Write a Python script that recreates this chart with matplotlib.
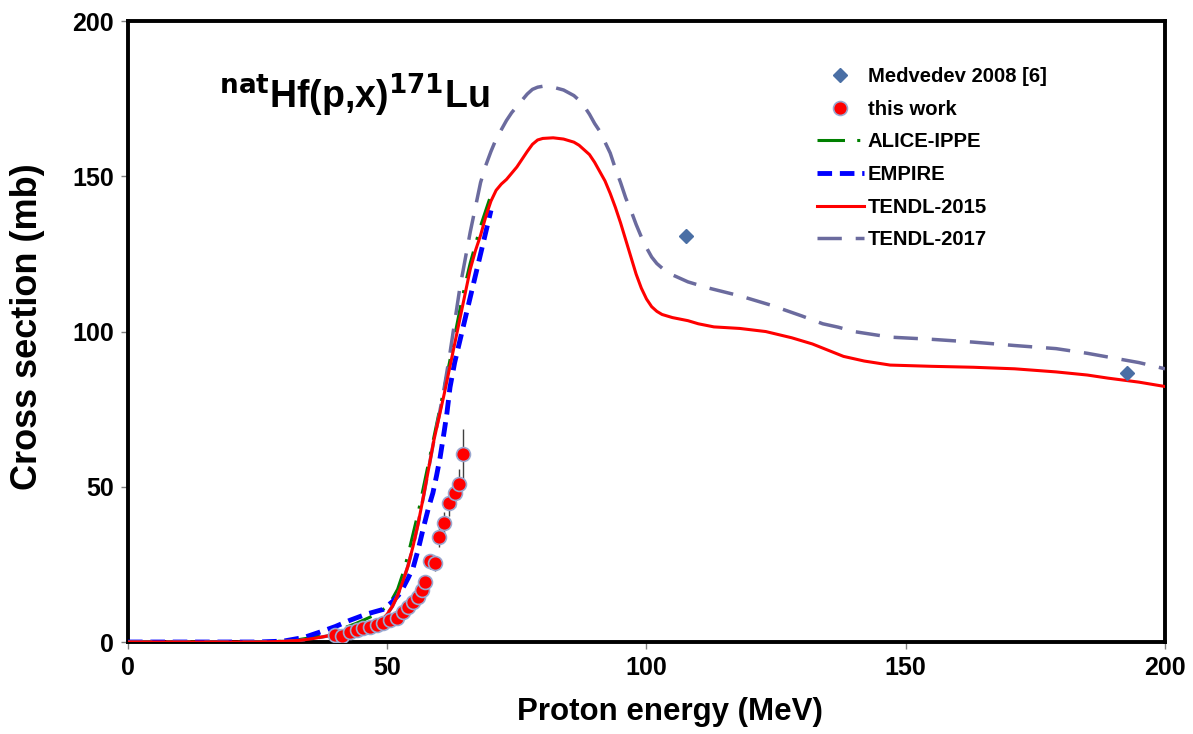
import matplotlib
matplotlib.use("Agg")
import matplotlib.pyplot as plt
import numpy as np

plt.rcParams['font.family'] = ['Liberation Sans', 'DejaVu Sans']
plt.rcParams['font.weight'] = 'bold'

# Experimental data: this work
exp_E = [39.9, 41.3, 42.8, 44.2, 45.3, 46.7, 48.0, 49.2, 50.5, 51.9, 53.0, 54.0,
         55.0, 55.9, 56.7, 57.3, 58.2, 59.2, 60.0, 61.0, 61.9, 63.1, 63.9, 64.6]
exp_xs = [2.3, 1.8, 3.2, 3.9, 4.5, 4.8, 5.5, 6.1, 7.1, 7.7, 9.6, 11.3,
          12.9, 14.5, 16.7, 19.3, 26.0, 25.4, 33.8, 38.3, 44.7, 48.0, 50.8, 60.5]
exp_err = [0.3, 0.3, 0.4, 0.4, 0.5, 0.5, 0.6, 0.6, 0.7, 0.8, 0.9, 1.0,
           1.2, 1.3, 1.5, 1.8, 2.5, 2.4, 3.2, 3.6, 4.2, 4.5, 4.8, 8.0]

# Medvedev 2008 [6]
med_E = [107.7, 192.6]
med_xs = [130.9, 86.6]

# ALICE-IPPE
alice_E = [0, 25, 30, 33, 36, 40, 44, 48, 50, 51, 52, 53, 54, 55, 56, 57, 58, 59, 60,
           61, 62, 63, 64, 65, 66, 67, 68, 69, 70]
alice_xs = [0, 0, 0.3, 0.8, 1.6, 3.5, 6.0, 9.0, 11.5, 14, 17, 22, 28, 35, 42, 50, 58, 66, 74,
            82, 90, 98.5, 107, 115, 122, 128, 134, 139, 144]

# EMPIRE
emp_E = [0, 25, 30, 34, 37, 40, 42.8, 46, 49.2, 51, 52.5, 54, 55, 56, 57, 58, 58.8, 59.5, 60.2,
         61, 61.5, 62.1, 63, 64, 65, 66, 67, 68, 69, 70]
emp_xs = [0, 0, 0.3, 1.5, 3.2, 5.0, 7.0, 9.0, 10.5, 13, 15.7, 20.5, 24, 30, 37, 43.5, 48, 53.5, 59.5,
          68, 73.6, 82, 90, 97, 104, 111, 118, 125, 132, 139]

# TENDL-2015
t15_E = [0, 25, 30, 33, 36, 38, 40, 42, 44, 46, 48, 49, 50, 51, 52, 53, 54, 55, 56, 57, 58, 59,
         60, 61, 62, 63, 64, 65, 66, 67, 68, 69, 70, 71, 72, 73, 74, 75, 76, 77, 78, 79, 80,
         82, 84, 86, 87, 88, 89, 90, 91, 92, 93, 94, 95, 96, 97, 98, 99, 100, 101, 102, 103,
         105, 108, 110, 113, 118, 123, 128, 132, 135, 138, 142, 147, 155, 163, 171, 179, 185,
         189, 195, 200]
t15_xs = [0, 0, 0.2, 0.5, 1.2, 1.8, 2.5, 3.3, 4.3, 5.2, 6.2, 7.2, 9.0, 11.5, 15, 19.5, 24.5, 31,
          38.5, 47, 56, 65, 72.5, 80, 88, 96, 104, 112, 120, 126, 131, 137, 142, 145.5, 147.5,
          149, 151, 153, 155.5, 158, 160.3, 161.7, 162.2, 162.4, 162, 161, 160, 158.5, 157,
          154.5, 151.5, 148.5, 144.5, 140, 135, 129.5, 124, 118.5, 114, 110.5, 108, 106.5, 105.5,
          104.5, 103.5, 102.5, 101.5, 101, 100, 98, 96, 94, 92, 90.5, 89.2, 88.8, 88.5, 88, 87,
          86, 85, 83.7, 82.3]

# TENDL-2017
t17_E = [0, 25, 30, 33, 36, 38, 40, 42, 44, 46, 48, 49, 50, 51, 52, 53, 54, 55, 56, 57, 58, 59,
         60, 61, 62, 63, 64, 65, 66, 67, 68, 69, 70, 71, 72, 73, 74, 75, 76, 77, 78, 79, 80, 81,
         82, 84, 86, 87, 88, 89, 90, 91, 92, 93, 94, 95, 96, 97, 98, 99, 100, 101, 102, 104, 106,
         108, 112, 118, 124, 130, 134, 137, 140, 147, 155, 163, 171, 179, 185, 190, 195, 200]
t17_xs = [0, 0, 0.2, 0.5, 1.2, 1.8, 2.5, 3.3, 4.3, 5.2, 6.2, 7.2, 9.0, 11.5, 15, 19.5, 24.5, 31,
          38.5, 47, 56, 65, 73, 82, 92, 103, 114, 123, 132, 140, 148, 153.5, 158, 162, 165, 168,
          170.5, 172.5, 174.5, 176.5, 178, 178.7, 179, 179, 178.7, 177.8, 176, 174.5, 172.5, 170,
          167, 164.5, 161, 157.5, 152.5, 148, 143, 139, 134.5, 130.5, 127, 124, 121.9, 119,
          117.5, 116, 114, 111.5, 108.5, 105, 102.5, 101.4, 100, 98.2, 97.5, 96.6, 95.5, 94.5,
          93, 91.5, 90, 88]

fig = plt.figure(figsize=(11.93, 7.34), dpi=100)
ax = fig.add_axes([0.1073, 0.1253, 0.8692, 0.8460])

ax.plot(alice_E, alice_xs, color='#008000', lw=2.2, dashes=(9, 4, 1, 4), label='ALICE-IPPE', zorder=3)
ax.plot(emp_E, emp_xs, color='#0000FF', lw=3.5, dashes=(3, 1.6), label='EMPIRE', zorder=4)
ax.plot(t15_E, t15_xs, color='#FF0000', lw=2.2, label='TENDL-2015', zorder=5)
ax.plot(t17_E, t17_xs, color='#6B6B9E', lw=2.5, dashes=(7, 4), label='TENDL-2017', zorder=4)

ax.errorbar(exp_E, exp_xs, yerr=exp_err, fmt='none', ecolor='#404040', elinewidth=1, zorder=6)
ax.plot(exp_E, exp_xs, 'o', color='#FF0000', ms=10, mec='#9AA8D0', mew=1.2,
        label='this work', zorder=7, linestyle='none')
ax.plot(med_E, med_xs, 'D', color='#4A6FA5', ms=7, label='Medvedev 2008 [6]', zorder=8,
        linestyle='none')

ax.set_xlim(0, 200)
ax.set_ylim(0, 200)
ax.set_xticks([0, 50, 100, 150, 200])
ax.set_yticks([0, 50, 100, 150, 200])
ax.tick_params(axis='both', direction='out', length=5, width=1, color='#808080',
               labelsize=18, pad=5)
for lab in ax.get_xticklabels() + ax.get_yticklabels():
    lab.set_fontweight('bold')
for sp in ax.spines.values():
    sp.set_linewidth(2.8)
    sp.set_color('black')

ax.set_xlabel('Proton energy (MeV)', fontsize=22.5, fontweight='bold')
ax.xaxis.set_label_coords(0.5227, -0.088)
ax.set_ylabel('Cross section (mb)', fontsize=26, fontweight='bold')
ax.yaxis.set_label_coords(-0.08, 0.508)

ax.text(0.088, 0.88, r'$^{\mathbf{nat}}$Hf(p,x)$^{\mathbf{171}}$Lu', transform=ax.transAxes,
        fontsize=27, fontweight='bold', ha='left', va='center')

handles, labels = ax.get_legend_handles_labels()
order = ['Medvedev 2008 [6]', 'this work', 'ALICE-IPPE', 'EMPIRE', 'TENDL-2015', 'TENDL-2017']
hmap = dict(zip(labels, handles))
leg = ax.legend([hmap[o] for o in order], order, loc='upper left', bbox_to_anchor=(0.647, 0.955),
                frameon=False, handlelength=2.3, labelspacing=0.67,
                handletextpad=0.2, prop={'weight': 'bold', 'size': 14.6})

fig.savefig('out.png', dpi=100)
